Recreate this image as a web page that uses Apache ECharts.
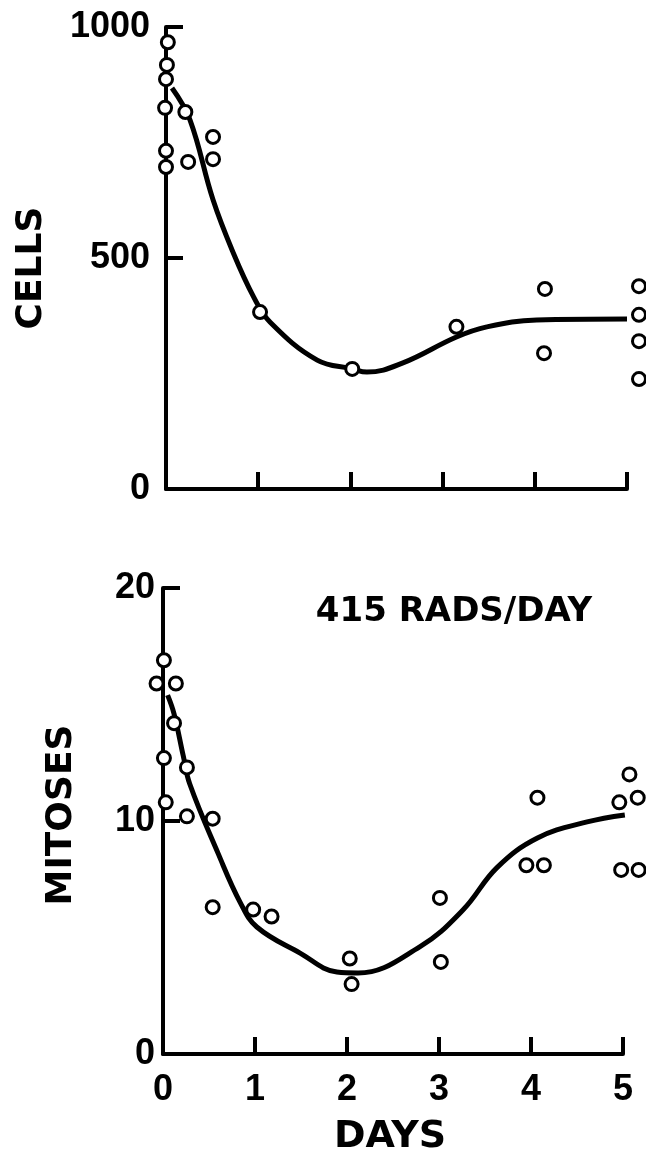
<!DOCTYPE html>
<html>
<head>
<meta charset="utf-8">
<script src="https://cdn.jsdelivr.net/npm/echarts@6/dist/echarts.min.js"></script>
<style>
  html, body { margin: 0; padding: 0; background: #fff; }
  #chart { width: 646px; height: 1156px; }
</style>
</head>
<body>
<div id="chart"></div>
<script>
// cells: observed points
var cellDays   = [0.02, 0.01, 0.0, -0.01, 0.0, 0.0, 0.21, 0.24, 0.51, 0.51, 1.02, 2.02, 3.15, 4.11, 4.10, 5.13, 5.13, 5.13, 5.13];
var cellCounts = [967, 918, 887, 825, 732, 697, 816, 708, 762, 714, 383, 260, 351, 433, 294, 439, 377, 320, 238];
// cells: fitted curve
var cellCurveDays = [0.065, 0.26, 0.51, 0.73, 0.95, 1.13, 1.64, 2.02, 2.18, 2.57, 3.15, 3.48, 4.02, 5.0];
var cellCurveVals = [868, 799, 626, 511, 416, 361, 279, 260, 253, 273, 329, 351, 366, 368];

// mitoses: observed points
var mitDays = [0.01, -0.07, 0.14, 0.12, 0.01, 0.26, 0.03, 0.26, 0.54, 0.54, 0.98, 1.18, 2.03, 2.05, 3.01, 3.02, 3.95, 4.07, 4.14, 4.96, 5.07, 5.16, 4.98, 5.17];
var mitVals = [16.9, 15.9, 15.9, 14.2, 12.7, 12.3, 10.8, 10.2, 10.1, 6.3, 6.2, 5.9, 4.1, 3.0, 6.7, 3.95, 8.1, 11.0, 8.1, 10.8, 12.0, 11.0, 7.9, 7.9];
// mitoses: fitted curve
var mitCurveDays = [0.05, 0.12, 0.22, 0.29, 0.60, 0.84, 1.02, 1.49, 1.89, 2.12, 2.79, 3.26, 3.63, 4.07, 4.61, 5.02];
var mitCurveVals = [15.4, 14.6, 12.8, 11.6, 8.6, 6.5, 5.45, 4.33, 3.52, 3.48, 4.6, 6.18, 8.0, 9.27, 9.96, 10.26];

var dayTicks = ['0', '1', '2', '3', '4', '5'];

function zip(a, b) {
  var out = [];
  for (var i = 0; i < a.length; i++) out.push([a[i], b[i]]);
  return out;
}

var numFont = 'Liberation Sans';
var axisLine = { lineStyle: { color: '#000', width: 4 } };
var tick = { inside: true, length: 17, lineStyle: { color: '#000', width: 4 } };

function xAxisOf(idx, showLabels) {
  return {
    type: 'value', gridIndex: idx, min: 0, max: 5, interval: 1,
    axisLine: axisLine, axisTick: tick, splitLine: { show: false },
    axisLabel: {
      show: showLabels, margin: 18, color: '#000',
      fontFamily: numFont, fontWeight: 'bold', fontSize: 36,
      formatter: function (v) { return dayTicks[v]; }
    }
  };
}

function yAxisOf(idx, max, interval, margin) {
  return {
    type: 'value', gridIndex: idx, min: 0, max: max, interval: interval,
    axisLine: { show: true, lineStyle: { color: '#000', width: 4 } },
    axisTick: { show: true, inside: true, length: 17, lineStyle: { color: '#000', width: 4 } },
    splitLine: { show: false },
    axisLabel: { margin: margin, color: '#000', fontFamily: numFont, fontWeight: 'bold', fontSize: 36,
                 formatter: function (v) { return String(v); } }
  };
}

var pointStyle = { color: '#fff', borderColor: '#000', borderWidth: 3, opacity: 1 };
var curveStyle = { color: '#000', width: 5 };

var chart = echarts.init(document.getElementById('chart'));
var option = {
  backgroundColor: '#fff',
  animation: false,
  grid: [
    { left: 166, top: 27, width: 461, height: 462 },
    { left: 163, top: 588, width: 460, height: 466 }
  ],
  xAxis: [xAxisOf(0, false), xAxisOf(1, true)],
  yAxis: [yAxisOf(0, 1000, 500, 16), yAxisOf(1, 20, 10, 8)],
  graphic: [
    { type: 'text', x: 32, y: 268, rotation: Math.PI / 2,
      style: { text: 'CELLS', font: 'bold 36px "DejaVu Sans"', fill: '#000',
               align: 'center', verticalAlign: 'middle', textAlign: 'center', textVerticalAlign: 'middle' } },
    { type: 'text', x: 62, y: 815, rotation: Math.PI / 2,
      style: { text: 'MITOSES', font: 'bold 36px "DejaVu Sans"', fill: '#000',
               align: 'center', verticalAlign: 'middle', textAlign: 'center', textVerticalAlign: 'middle' } },
    { type: 'text', x: 390, y: 1137,
      style: { text: 'DAYS', font: 'bold 38px "DejaVu Sans"', fill: '#000',
               align: 'center', verticalAlign: 'middle', textAlign: 'center', textVerticalAlign: 'middle' } },
    { type: 'text', x: 454, y: 612,
      style: { text: '415 RADS/DAY', font: 'bold 34px "DejaVu Sans"', fill: '#000',
               align: 'center', verticalAlign: 'middle', textAlign: 'center', textVerticalAlign: 'middle' } }
  ],
  series: [
    { name: 'cells curve', type: 'line', xAxisIndex: 0, yAxisIndex: 0, smooth: 0.4,
      showSymbol: false, lineStyle: curveStyle, z: 2,
      data: zip(cellCurveDays, cellCurveVals) },
    { name: 'cells', type: 'scatter', xAxisIndex: 0, yAxisIndex: 0, clip: false,
      symbol: 'circle', symbolSize: 13, itemStyle: pointStyle, z: 3,
      data: zip(cellDays, cellCounts) },
    { name: 'mitoses curve', type: 'line', xAxisIndex: 1, yAxisIndex: 1, smooth: 0.4,
      showSymbol: false, lineStyle: curveStyle, z: 2,
      data: zip(mitCurveDays, mitCurveVals) },
    { name: 'mitoses', type: 'scatter', xAxisIndex: 1, yAxisIndex: 1, clip: false,
      symbol: 'circle', symbolSize: 13, itemStyle: pointStyle, z: 3,
      data: zip(mitDays, mitVals) }
  ]
};
chart.setOption(option);
</script>
</body>
</html>
